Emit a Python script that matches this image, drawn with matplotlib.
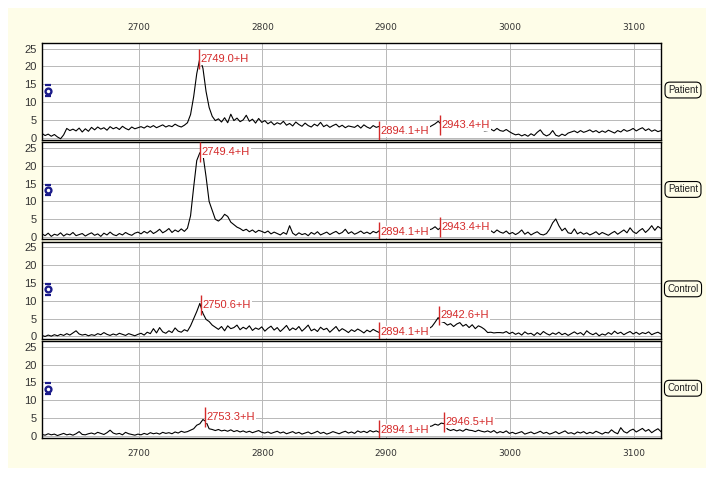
import matplotlib.pyplot as plt
import numpy as np
from matplotlib.patches import Rectangle

# spectra sampled every 2.5 m/z starting at 2622
mz_start = 2622.0
mz_step = 2.5

patient_1 = [
    1.2, 0.6, 1.0, 0.4, 0.9, 0.2, -0.3, 0.8, 2.6,
    2.0, 2.4, 1.9, 2.7, 1.6, 2.5, 1.8, 2.9, 2.2, 3.0, 2.4, 2.8, 2.1, 3.1, 2.5, 2.9, 2.3, 3.2, 2.6, 2.2, 3.0, 2.5,
    2.8, 3.1, 2.7, 3.3, 2.9, 3.4, 2.8, 3.2, 3.6, 3.0, 3.4, 3.1, 3.8, 3.3, 3.0, 3.5,
    4.2, 6.5, 11.5, 18.0, 22.3, 19.5, 13.0, 8.5, 6.0, 4.8,
    5.3, 4.4, 5.6, 4.2, 6.6, 4.8, 5.5, 4.5, 5.0, 6.3, 4.6, 5.2, 4.1, 5.4, 4.3,
    4.8, 3.9, 4.5, 3.6, 4.2, 3.8, 4.6, 3.5, 4.0, 3.3, 4.4, 3.7, 3.2, 4.1, 3.4, 3.0, 3.8, 3.3, 4.3, 3.1,
    3.6, 2.9, 3.4, 3.8, 3.0, 3.5, 2.8, 3.3, 3.1,
    2.9, 3.5, 2.7, 3.6, 3.0, 2.6, 3.4, 2.9, 3.2, 2.7,
    2.6, 3.0, 2.5, 2.9, 2.4, 2.8, 2.6, 3.1, 2.7, 2.9, 2.5, 3.0, 2.8, 3.2, 2.9,
    3.4, 3.9, 4.6, 3.8,
    3.2, 2.9, 3.1, 2.7, 2.9, 2.5, 2.8, 2.4, 2.6, 2.2, 2.5, 2.1, 2.3, 1.9, 2.0,
    2.4, 1.9, 2.6, 2.0, 1.8, 2.3, 1.7,
    1.2, 0.8, 1.0, 0.5, 0.9, 0.4, 1.1, 0.6, 1.5, 2.2, 1.0, 0.5, 0.9, 2.0, 0.7, 0.4, 1.0, 0.6, 1.3,
    1.6, 1.9, 1.4, 2.0, 1.5, 1.8, 2.2, 1.6, 2.0, 1.4, 1.9, 1.5, 2.1, 1.7, 1.3,
    2.0, 1.6, 2.3, 1.8, 2.1, 2.6, 1.9, 2.4, 2.8, 2.0, 2.5, 1.8, 2.2, 1.7, 2.0,
]

patient_2 = [
    0.9, 0.4, 1.1, 0.2, 0.8, 0.5, 1.2, 0.3, 0.9, 0.6, 1.3, 0.4, 0.7, 1.0, 0.3, 0.8,
    1.2, 0.5, 0.9, 0.2, 1.1, 0.6, 1.4, 0.7, 0.4, 1.0, 0.6, 1.3, 0.8, 0.5, 1.1,
    1.4, 0.9, 1.6, 1.1, 1.8, 1.0, 1.5, 2.2, 1.2, 1.7, 2.4, 1.3, 2.0, 1.5, 2.3, 1.6,
    2.5, 6.0, 14.0, 21.5, 23.7, 23.2, 17.0, 10.0, 7.5, 5.0,
    4.5, 5.2, 6.4, 5.8, 4.2, 3.5, 2.8,
    2.4, 1.8, 2.2, 1.5, 2.0, 1.3, 1.9, 1.6, 1.2, 1.7, 0.9, 1.4, 1.0, 0.6, 1.3, 0.8,
    3.2, 1.1, 0.5, 1.2, 0.7, 1.0, 0.4, 1.3, 0.8, 1.5, 0.6,
    1.0, 1.4, 0.7, 1.2, 1.6, 0.9, 1.3, 2.2, 1.0, 1.5, 0.8, 1.2, 1.7, 1.0, 1.4, 0.9, 1.6, 1.2, 1.8, 1.4,
    1.5, 1.8, 1.3, 1.7, 1.4, 2.0, 1.6, 1.9, 1.5, 2.1, 1.7, 2.0, 1.8, 2.2, 2.0,
    2.3, 2.9, 2.1, 2.8,
    2.4, 2.0, 2.3, 1.8, 2.1, 1.7, 2.0, 1.6, 1.9, 1.5, 1.8, 1.4, 1.7, 1.5, 1.3,
    1.8, 1.2, 2.0, 1.4, 1.1, 1.7, 0.9, 1.3, 0.7, 1.2, 2.0, 0.8, 1.4, 0.6, 1.1, 1.5, 0.8, 0.6, 1.0, 2.2,
    4.0, 5.1, 3.2, 1.8, 2.5, 1.2,
    1.0, 2.3, 0.9, 1.4, 0.8, 1.2, 0.6, 1.0, 1.5, 0.7, 1.3, 0.9, 0.5, 1.1, 1.6,
    0.8, 1.4, 2.0, 1.2, 2.6, 1.5, 1.0, 1.8, 2.4, 1.3, 2.1, 3.2, 1.9, 3.0, 2.4,
]

control_1 = [
    0.3, 0.0, 0.4, 0.1, 0.5, 0.2, 0.6, 0.3, 0.8, 0.4, 1.0, 1.6, 0.7, 0.4, 0.6, 0.2,
    0.5, 0.3, 0.8, 0.5, 1.1, 0.6, 0.3, 0.7, 0.4, 0.9, 0.6, 0.3, 0.8, 0.5, 0.2,
    0.6, 0.9, 0.4, 1.2, 0.8, 2.2, 1.0, 2.5, 1.3, 0.9, 1.6, 1.1, 2.4, 1.5, 1.2, 1.9,
    1.5, 3.0, 5.0, 7.0, 9.3, 6.5, 4.8, 4.2, 3.2, 2.6,
    2.0, 2.8, 1.6, 3.0, 2.2, 2.5, 3.2, 1.9, 2.6, 2.1,
    3.0, 1.7, 2.4, 2.0, 2.7, 1.5, 2.3, 2.9, 1.8, 2.5,
    1.4, 2.2, 3.1, 1.7, 2.4, 1.9, 2.8, 1.5, 2.3, 3.2,
    1.6, 2.1, 1.4, 2.6, 1.9, 2.3, 1.2, 2.0, 2.8, 1.5,
    2.2, 1.7, 1.1, 1.9, 1.4, 2.1, 1.6, 1.0, 1.8, 1.3,
    2.0, 1.5, 1.1, 1.7,
    1.5, 1.8, 1.4, 1.9, 1.6, 2.0, 1.7, 2.1, 1.8, 2.2, 1.9, 2.3, 2.0, 2.4, 2.2,
    2.8, 4.0, 5.3, 4.2,
    3.9, 3.2, 3.6, 2.8, 3.5, 3.9, 2.9, 3.4, 2.5, 3.3, 2.2, 3.0, 2.6, 2.0,
    1.1, 1.2, 1.0, 1.1, 1.1, 1.0, 1.4, 0.8,
    1.2, 0.6, 1.0, 0.4, 1.3, 0.7, 0.9, 0.3, 1.1, 0.5,
    1.4, 0.8, 0.4, 1.0, 0.6, 1.2, 0.5, 0.9, 0.3, 0.8,
    1.3, 0.7, 1.1, 0.4, 1.6, 0.9, 0.5, 1.0, 0.2, 0.7,
    0.4, 1.1, 0.6, 1.5, 0.8, 1.2, 0.5, 1.0, 1.4, 0.7,
    1.2, 0.6, 1.1, 0.8, 1.3, 0.5, 0.9, 1.2, 0.7,
]

control_2 = [
    0.4, 0.2, 0.6, 0.3, 0.5, 0.1, 0.4, 0.7, 0.3, 0.5, 0.2, 0.6, 1.2, 0.4, 0.3, 0.6,
    0.8, 0.5, 1.0, 0.7, 0.4, 0.9, 1.6, 0.8, 0.5, 0.7, 0.3, 1.0, 0.6, 0.4, 0.2,
    0.5, 0.3, 0.7, 0.4, 0.9, 0.6, 0.8, 0.5, 1.0, 0.7, 0.9, 0.6, 1.1, 0.8, 1.3, 1.0,
    1.2, 1.6, 2.0, 3.0, 3.4, 4.6, 4.0, 2.0, 1.8, 1.5,
    1.8, 1.4, 1.6, 1.3, 1.7, 1.2, 1.5, 1.1, 1.4, 1.0,
    1.3, 0.9, 1.2, 1.5, 1.0, 0.8, 1.1, 0.7, 1.0, 1.3,
    0.8, 1.1, 0.6, 0.9, 1.2, 0.7, 1.0, 0.5, 0.8, 1.1,
    0.6, 0.9, 1.3, 0.7, 1.0, 0.5, 0.8, 1.2, 0.9, 0.6,
    1.0, 1.3, 0.8, 1.1, 0.7, 1.4, 1.0, 1.3, 0.9, 1.5,
    1.1, 1.4, 1.0, 1.6,
    1.2, 1.5, 1.1, 1.4, 1.3, 1.6, 1.2, 1.7, 1.5, 1.8, 1.6, 2.0, 1.8, 2.3, 2.6,
    2.8, 3.3, 3.0, 3.6,
    3.4, 1.9, 1.5, 1.8, 1.4, 1.7, 1.3, 1.9, 1.6, 1.5, 1.2, 1.6, 1.3, 1.1, 1.4,
    1.0, 1.5, 0.8, 1.2, 0.9, 1.4, 0.7, 1.0, 0.6, 0.9,
    1.2, 0.5, 0.8, 1.1, 0.6, 0.9, 1.3, 0.7, 1.0, 0.5,
    0.8, 1.2, 0.6, 1.0, 1.4, 0.7, 0.9, 0.5, 1.1, 0.8,
    1.2, 0.6, 1.0, 0.7, 1.3, 0.9, 0.5, 1.0, 0.8, 1.7,
    1.0, 0.6, 2.3, 1.2, 0.8, 1.5, 1.9, 1.1, 1.6, 2.1,
    1.3, 1.8, 0.9, 1.5, 2.0, 1.2,
]

spectra = [patient_1, patient_2, control_1, control_2]
groups = ["Patient", "Patient", "Control", "Control"]

# peak labels (m/z) and the height the label sits at
peak_mz = [
    [2749.0, 2894.1, 2943.4],
    [2749.4, 2894.1, 2943.4],
    [2750.6, 2894.1, 2942.6],
    [2753.3, 2894.1, 2946.5],
]
peak_level = [
    [22.0, 1.9, 3.5],
    [23.8, 1.4, 2.8],
    [8.8, 1.3, 5.9],
    [5.4, 1.6, 4.0],
]

x_ticks = [2700, 2800, 2900, 3000, 3100]
y_ticks = [0, 5, 10, 15, 20, 25]

W, H = 715, 478
red = "#d42a2a"
cream = "#fefde8"
navy = "#1c1c8a"

fig = plt.figure(figsize=(W / 100, H / 100), dpi=100)
fig.patches.append(Rectangle((8 / W, 1 - 468 / H), 698 / W, 460 / H,
                             transform=fig.transFigure, facecolor=cream,
                             edgecolor="none", zorder=-10))

left, right = 42, 661
tops = [43, 142.4, 241.8, 341.2]
ph = 97.0

for k, vals in enumerate(spectra):
    ax = fig.add_axes([left / W, 1 - (tops[k] + ph) / H, (right - left) / W, ph / H])
    mz = mz_start + mz_step * np.arange(len(vals))
    ax.plot(mz, vals, color="black", lw=0.8, zorder=3)
    ax.set_xlim(2622, 3122)
    ax.set_ylim(-0.65, 26.6)
    ax.set_xticks(x_ticks)
    ax.set_yticks(y_ticks)
    ax.grid(True, color="#b8b8b8", lw=0.7)
    ax.set_axisbelow(True)
    for s in ax.spines.values():
        s.set_linewidth(1.0)
    ax.tick_params(length=0)
    ax.tick_params(axis="y", pad=4, labelsize=8, labelcolor="#333333")
    for t in ax.get_yticklabels():
        t.set_fontfamily("Liberation Sans")
    if k == 0:
        ax.tick_params(axis="x", top=True, labeltop=True, bottom=False, labelbottom=False,
                       pad=8, labelsize=6.5, labelcolor="#333333")
    elif k == 3:
        ax.tick_params(axis="x", pad=8, labelsize=6.5, labelcolor="#333333")
    else:
        ax.tick_params(axis="x", labelbottom=False)

    for pm, lv in zip(peak_mz[k], peak_level[k]):
        ax.vlines(pm, lv - 2.8, lv + 2.8, color=red, lw=1.0, zorder=5)
        ax.annotate(f"{pm:.1f}+H", (pm, lv), xytext=(1.2, 0), textcoords="offset points",
                    va="center", ha="left", color=red, fontsize=8,
                    fontfamily="Liberation Sans", zorder=4,
                    bbox=dict(boxstyle="square,pad=0.1", facecolor="white", edgecolor="none"))

    # small navy badge at left
    ax.plot([0.009], [0.51], marker="o", ms=4.2, mfc="white", mec=navy, mew=1.7,
            transform=ax.transAxes, clip_on=False, zorder=6)
    ax.plot([0.009, 0.009], [0.51 + 0.055, 0.51 - 0.055], ls="none", marker="_", ms=4.5,
            mec=navy, mew=1.6, transform=ax.transAxes, clip_on=False, zorder=6)

    ax.text(1 + 22 / (right - left), 0.515, groups[k], transform=ax.transAxes,
            ha="center", va="center", fontsize=7, fontfamily="Liberation Sans",
            color="#222222",
            bbox=dict(boxstyle="round,pad=0.3,rounding_size=0.5", facecolor=cream,
                      edgecolor="black", lw=0.8))

fig.savefig("out.png", dpi=100, facecolor="white")
